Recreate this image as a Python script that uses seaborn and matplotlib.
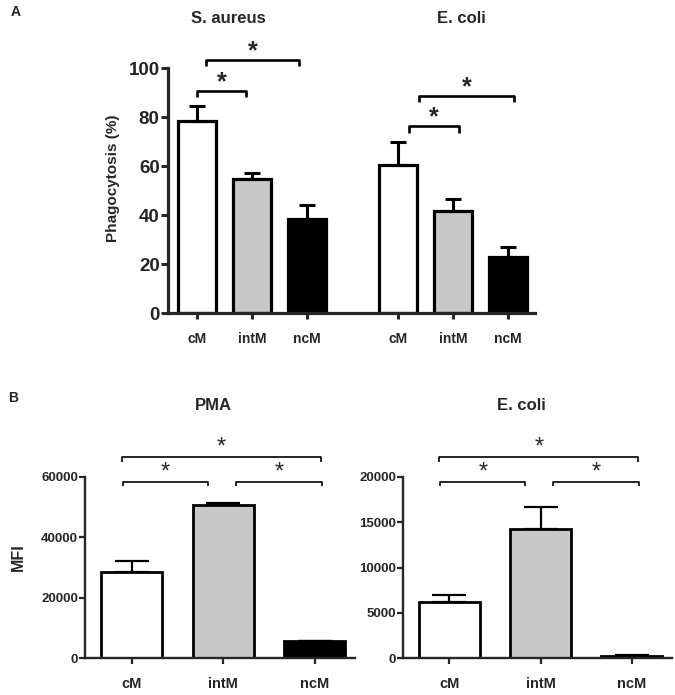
import pandas as pd
import matplotlib
matplotlib.use("Agg")
import matplotlib.pyplot as plt
import seaborn as sns

sns.set_theme(style="ticks")
plt.rcParams["font.family"] = ["Liberation Sans", "DejaVu Sans"]
plt.rcParams["font.weight"] = "bold"

# ---------------------------------------------------------------
# data
# ---------------------------------------------------------------
cells = ["cM", "intM", "ncM"]
colors = ["white", "#c8c8c8", "black"]

# panel A: phagocytosis (%)
a_saureus = [78.5, 54.8, 38.3]
a_saureus_err = [6.0, 2.5, 5.6]
a_ecoli = [60.4, 41.6, 22.9]
a_ecoli_err = [9.4, 4.9, 4.0]

# panel B: MFI
b_pma = [28500, 50800, 5600]
b_pma_err = [3700, 600, 150]
b_ecoli = [6200, 14250, 200]
b_ecoli_err = [800, 2450, 100]

palette = dict(zip(cells, colors))


def bracket(ax, x1, x2, y, h, lw, star_dy, fs, weight):
    ax.plot([x1, x1, x2, x2], [y - h, y, y, y - h], color="black",
            lw=lw, clip_on=False, solid_capstyle="butt")
    ax.text((x1 + x2) / 2, y + star_dy, "*", ha="center", va="center",
            fontsize=fs, fontweight=weight, clip_on=False)


fig = plt.figure(figsize=(6.75, 6.95), dpi=100)

# ---------------------------------------------------------------
# A
# ---------------------------------------------------------------
ax_a = fig.add_axes([0.2489, 0.5496, 0.5437, 0.3525])
gap = 1.65
pos_a = [0, 1, 2, 2 + gap, 3 + gap, 4 + gap]
df_a = pd.DataFrame({
    "pos": pos_a,
    "value": a_saureus + a_ecoli,
    "cell": cells * 2,
})
sns.barplot(data=df_a, x="pos", y="value", hue="cell", hue_order=cells,
            palette=palette, dodge=False, native_scale=True, width=0.69,
            edgecolor="black", linewidth=2.3, errorbar=None, legend=False,
            ax=ax_a)
ax_a.errorbar(pos_a, a_saureus + a_ecoli,
              yerr=[[0] * 6, a_saureus_err + a_ecoli_err],
              fmt="none", ecolor="black", elinewidth=2.2, capsize=6,
              capthick=2.2, zorder=1)

ax_a.set_xlim(-0.53, 6.14)
ax_a.set_ylim(0, 100)
ax_a.set_yticks([0, 20, 40, 60, 80, 100])
ax_a.set_xticks(pos_a, cells * 2)
ax_a.tick_params(axis="y", labelsize=13.5, width=2.2, length=5, pad=1)
ax_a.tick_params(axis="x", labelsize=10, width=2.2, length=4, pad=10)
for lab in ax_a.get_yticklabels() + ax_a.get_xticklabels():
    lab.set_fontweight("bold")
for s in ["top", "right"]:
    ax_a.spines[s].set_visible(False)
for s in ["left", "bottom"]:
    ax_a.spines[s].set_linewidth(2.3)
ax_a.set_xlabel("")
ax_a.set_ylabel("Phagocytosis (%)", fontsize=11, fontweight="bold")
ax_a.yaxis.set_label_coords(-0.13, 0.55)

bracket(ax_a, 0.0, 0.89, 90.6, 2.6, 1.9, 3.4, 18, "bold")
bracket(ax_a, 0.16, 1.85, 103.3, 2.6, 1.9, 3.4, 18, "bold")
bracket(ax_a, 3.85, 4.76, 76.3, 2.8, 1.9, 3.4, 18, "bold")
bracket(ax_a, 4.04, 5.75, 88.6, 2.6, 1.9, 3.4, 18, "bold")

fig.text(0.016, 0.983, "A", fontsize=10, fontweight="bold", va="center")
fig.text(0.339, 0.974, "S. aureus", fontsize=12, fontweight="bold",
         ha="center", va="center")
fig.text(0.684, 0.974, "E. coli", fontsize=12, fontweight="bold",
         ha="center", va="center")

# ---------------------------------------------------------------
# B
# ---------------------------------------------------------------
panels_b = [
    ([0.126, 0.0532, 0.400, 0.2605], b_pma, b_pma_err, 60000, 20000,
     "PMA", 0.316, "MFI"),
    ([0.597, 0.0532, 0.3986, 0.2605], b_ecoli, b_ecoli_err, 20000, 5000,
     "E. coli", 0.773, ""),
]

for rect, vals, errs, top, step, title, tx, ylab in panels_b:
    ax = fig.add_axes(rect)
    df_b = pd.DataFrame({"cell": cells, "value": vals})
    sns.barplot(data=df_b, x="cell", y="value", hue="cell", order=cells,
                hue_order=cells, palette=palette, width=0.67,
                edgecolor="black", linewidth=2.0, errorbar=None,
                legend=False, ax=ax)
    ax.errorbar(range(3), vals, yerr=[[0] * 3, errs], fmt="none",
                ecolor="black", elinewidth=1.6, capsize=12, capthick=1.6,
                zorder=1)
    ax.set_xlim(-0.51, 2.44)
    ax.set_ylim(0, top)
    ax.set_yticks(range(0, top + 1, step))
    ax.tick_params(axis="y", labelsize=9.5, width=1.6, length=4, pad=1)
    ax.tick_params(axis="x", labelsize=10.5, width=1.6, length=4, pad=10)
    for lab in ax.get_yticklabels() + ax.get_xticklabels():
        lab.set_fontweight("bold")
    for s in ["top", "right"]:
        ax.spines[s].set_visible(False)
    for s in ["left", "bottom"]:
        ax.spines[s].set_linewidth(1.7)
    ax.set_xlabel("")
    ax.set_ylabel(ylab, fontsize=11.5, fontweight="bold")
    ax.yaxis.set_label_coords(-0.22, 0.56)

    h = top * 0.025
    bracket(ax, -0.11, 2.07, top * 1.11, h, 1.2, top * 0.055, 17, "normal")
    bracket(ax, -0.10, 0.83, top * 0.973, h, 1.2, top * 0.05, 17, "normal")
    bracket(ax, 1.14, 2.08, top * 0.973, h, 1.2, top * 0.05, 17, "normal")

    fig.text(tx, 0.416, title, fontsize=12, fontweight="bold",
             ha="center", va="center")

fig.text(0.012, 0.427, "B", fontsize=10, fontweight="bold", va="center")

fig.savefig("out.png", dpi=100)
